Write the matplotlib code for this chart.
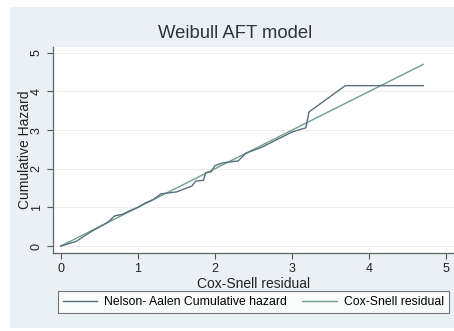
import matplotlib
matplotlib.use('Agg')
import matplotlib.pyplot as plt
from matplotlib.patches import Rectangle

# Nelson-Aalen cumulative hazard
na_x = [0, 0.2, 0.4, 0.6, 0.7, 0.8, 0.9, 1.0, 1.1, 1.2, 1.3, 1.5, 1.7, 1.75, 1.85, 1.88,
        1.95, 2.0, 2.1, 2.2, 2.3, 2.4, 2.6, 2.8, 3.0, 3.18, 3.22, 3.69, 4.7]
na_y = [0, 0.12, 0.38, 0.6, 0.78, 0.82, 0.92, 1.0, 1.12, 1.2, 1.35, 1.4, 1.55, 1.68, 1.7, 1.9,
        1.92, 2.08, 2.15, 2.18, 2.2, 2.4, 2.55, 2.75, 2.95, 3.06, 3.47, 4.15, 4.15]

# Cox-Snell residual reference line
cs_x = [0, 4.7]
cs_y = [0, 4.7]

xticks = [0, 1, 2, 3, 4, 5]
yticks = [0, 1, 2, 3, 4, 5]

plt.rcParams['font.family'] = ['Liberation Sans', 'DejaVu Sans']

fig = plt.figure(figsize=(4.54, 3.31), dpi=100)
fig.patch.set_facecolor('white')
# light blue-gray graph region
fig.patches.append(Rectangle((10/454, 3/331), 444/454, 321/331, transform=fig.transFigure,
                             facecolor='#e9f1f4', edgecolor='none', zorder=-5))

ax = fig.add_axes([53/454, 1-253/331, 401/454, 206/331])
ax.set_zorder(1)
ax.set_facecolor('white')

ax.plot(na_x, na_y, color='#5b6e7c', lw=1.0, label='Nelson- Aalen Cumulative hazard', zorder=3)
ax.plot(cs_x, cs_y, color='#6f9e8f', lw=1.0, label='Cox-Snell residual', zorder=2)

ax.set_xlim(-0.1, 5.1)
ax.set_ylim(-0.18, 5.15)
ax.set_xticks(xticks)
ax.set_yticks(yticks)
ax.tick_params(direction='out', length=4, color='#555555', labelsize=9, labelcolor='#222222')
for lab in ax.get_yticklabels():
    lab.set_rotation(90)
    lab.set_va('center')
ax.grid(axis='y', color='#eeeeee', lw=0.8)
ax.set_axisbelow(True)
for s in ['top', 'right']:
    ax.spines[s].set_visible(False)
for s in ['left', 'bottom']:
    ax.spines[s].set_color('#666666')
    ax.spines[s].set_linewidth(0.9)

ax.set_xlabel('Cox-Snell residual', fontsize=10, color='#222222', labelpad=1)
ax.set_ylabel('Cumulative Hazard', fontsize=10, color='#222222', labelpad=-1)
fig.text(235/454, 1-33/331, 'Weibull AFT model', ha='center', va='center', fontsize=13.3, color='#2a3540')

leg = fig.legend(loc='lower left', bbox_to_anchor=(58/454, 1-313/331, 391/454, 22/331),
                 mode='expand', ncol=2, fontsize=8.8, frameon=True, fancybox=False,
                 handlelength=2.8, handletextpad=0.6, borderaxespad=0, columnspacing=1.0)
leg.set_zorder(10)
leg.get_frame().set_edgecolor('#555555')
leg.get_frame().set_linewidth(0.8)

fig.savefig('out.png', dpi=100)
